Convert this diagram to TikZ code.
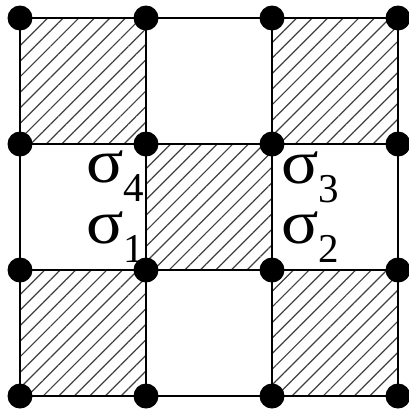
\documentclass[tikz,border=0pt]{standalone}
\usepackage{fontspec}
\setmainfont{Liberation Serif}
\usetikzlibrary{patterns.meta}
\newcommand\sigm{\scalebox{1.12}[1]{\fontsize{62}{62}\selectfont σ}}
\newcommand\idx[1]{\raisebox{-19pt}{\fontsize{41}{41}\selectfont #1}}

\begin{document}
\begin{tikzpicture}[x=1pt, y=-1pt,
    hatched/.style={pattern={Lines[angle=45, distance=11pt, line width=1.2pt]}, pattern color=black!75},
    edge/.style={line width=1.8pt},
    dot/.style={circle, fill=black, inner sep=0pt, minimum size=25pt},
    lab/.style={inner sep=0pt}
]
    \useasboundingbox (0,0) rectangle (409,408);
    % lattice sites
    \foreach \i in {0,...,3}
        \foreach \j in {0,...,3}
            \coordinate (p\i\j) at ({20+126*\i},{18+126*\j});
    % shaded plaquettes
    \foreach \a/\b in {p00/p11, p20/p31, p11/p22, p02/p13, p22/p33}
        \fill[hatched] (\a) rectangle (\b);
    % bonds
    \foreach \k in {0,...,3} {
        \draw[edge] (p0\k) -- (p3\k);
        \draw[edge] (p\k0) -- (p\k3);
    }
    % sites
    \foreach \i in {0,...,3}
        \foreach \j in {0,...,3}
            \node[dot] (d\i\j) at (p\i\j) {};

    \node[lab, anchor=base west] (s4) at (86,182) {\sigm\idx{4}};
    \node[lab, anchor=base west] (s1) at (86,243) {\sigm\idx{1}};
    \node[lab, anchor=base west] (s3) at (281,183) {\sigm\idx{3}};
    \node[lab, anchor=base west] (s2) at (281,243) {\sigm\idx{2}};
\end{tikzpicture}
\end{document}
